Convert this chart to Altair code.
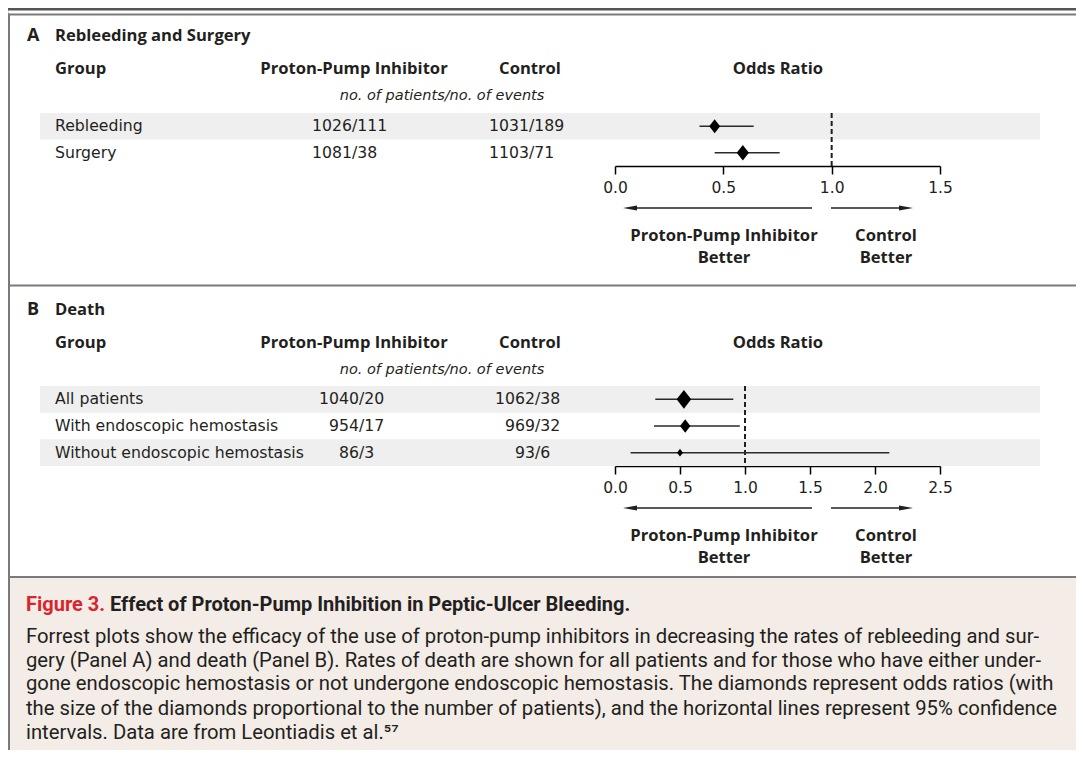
import altair as alt
import pandas as pd

# ---------------- data ----------------
a_groups = ["Rebleeding", "Surgery"]
a_ppi_patients = [1026, 1081]
a_ppi_events = [111, 38]
a_ctl_patients = [1031, 1103]
a_ctl_events = [189, 71]
a_or = [0.46, 0.59]
a_lo = [0.39, 0.46]
a_hi = [0.64, 0.76]
a_weight = [56, 70]
a_ticks = [0.0, 0.5, 1.0, 1.5]

b_groups = ["All patients", "With endoscopic hemostasis", "Without endoscopic hemostasis"]
b_ppi_patients = [1040, 954, 86]
b_ppi_events = [20, 17, 3]
b_ctl_patients = [1062, 969, 93]
b_ctl_events = [38, 32, 6]
b_or = [0.53, 0.54, 0.50]
b_lo = [0.31, 0.30, 0.12]
b_hi = [0.91, 0.96, 2.11]
b_weight = [100, 51, 17]
b_ticks = [0.0, 0.5, 1.0, 1.5, 2.0, 2.5]

headers = ["Group", "Proton-Pump Inhibitor", "Control", "Odds Ratio"]
subheader = "no. of patients/no. of events"
favour_left = ["Proton-Pump Inhibitor", "Better"]
favour_right = ["Control", "Better"]

caption_label = "Figure 3."
caption_title = "Effect of Proton-Pump Inhibition in Peptic-Ulcer Bleeding."
caption_lines = [
    "Forrest plots show the efficacy of the use of proton-pump inhibitors in decreasing the rates of rebleeding and sur-",
    "gery (Panel A) and death (Panel B). Rates of death are shown for all patients and for those who have either under-",
    "gone endoscopic hemostasis or not undergone endoscopic hemostasis. The diamonds represent odds ratios (with",
    "the size of the diamonds proportional to the number of patients), and the horizontal lines represent 95% confidence",
    "intervals. Data are from Leontiadis et al.\u2075\u2077",
]

# ---------------- style ----------------
W = 1068
H = 742
FONT = "DejaVu Sans"
BFONT = "Open Sans"
CAPFONT = "Roboto"
INK = "#231f20"
BORDER = "#7a7a7a"
BAND = "#efefef"
XR = [607, 932]
BOLD = 16.6
DIAMOND = "M0,-1L0.78,0L0,1L-0.78,0Z"
ARROW_L = "M-1,0L1,-0.35L1,0.35Z"
ARROW_R = "M1,0L-1,-0.35L-1,0.35Z"

one = pd.DataFrame({"k": [0]})


def hline(y, x0=0, x1=W, color=BORDER, width=2):
    return alt.Chart(one).mark_rule(color=color, strokeWidth=width).encode(
        x=alt.value(x0), x2=alt.value(x1), y=alt.value(y))


def vline(x, y0, y1, color=BORDER, width=2):
    return alt.Chart(one).mark_rule(color=color, strokeWidth=width).encode(
        x=alt.value(x), y=alt.value(y0), y2=alt.value(y1))


def label(text, x, y, align="left", size=15, weight="normal", style="normal",
          color=INK, font=FONT):
    return alt.Chart(one).mark_text(
        align=align, baseline="middle", fontSize=size, fontWeight=weight,
        fontStyle=style, color=color, font=font
    ).encode(x=alt.value(x), y=alt.value(y), text=alt.value(text))


def blabel(text, x, y, align="left", size=BOLD):
    return label(text, x, y, align=align, size=size, weight="bold", font=BFONT)


def panel(letter, title, groups, ppi_n, ppi_e, ctl_n, ctl_e, orv, lo, hi,
          wt, ticks, top, axis_y, band_top, ppi_slash, ctl_slash):
    df = pd.DataFrame({
        "group": groups,
        "ppi_n": [str(v) for v in ppi_n],
        "ppi_e": ["/" + str(v) for v in ppi_e],
        "ctl_n": [str(v) for v in ctl_n],
        "ctl_e": ["/" + str(v) for v in ctl_e],
        "or": orv, "lo": lo, "hi": hi, "wt": wt,
        "shade": [i % 2 == 0 for i in range(len(groups))],
    })
    xmax = ticks[-1]
    xsc = alt.Scale(domain=[0, xmax], range=XR, nice=False, zero=False)
    ysc = alt.Scale(domain=groups, range=[band_top, axis_y], paddingInner=0,
                    paddingOuter=0)
    Y = alt.Y("group:N", scale=ysc, axis=None)
    base = alt.Chart(df)

    bands = base.transform_filter("datum.shade").mark_rect(color=BAND).encode(
        y=Y, x=alt.value(32), x2=alt.value(1032))
    ref = alt.Chart(pd.DataFrame({"ref": [1.0]})).mark_rule(
        color=INK, strokeWidth=2, strokeDash=[5, 3]).encode(
        x=alt.X("ref:Q", scale=xsc, axis=alt.Axis(
            orient="bottom", offset=axis_y - H,
            values=ticks, format=".1f", title=None, grid=False,
            domainColor="black", domainWidth=1.5, tickColor="black",
            tickWidth=1.5, tickSize=8, labelFont=FONT, labelFontSize=15.5,
            labelColor=INK, labelPadding=6, labelFlush=False)),
        y=alt.value(band_top), y2=alt.value(axis_y))
    ci = base.mark_rule(color="#2a2a2a", strokeWidth=1.5).encode(
        x=alt.X("lo:Q", scale=xsc, axis=None), x2="hi:Q", y=Y)
    dia = base.mark_point(shape=DIAMOND, filled=True, color="black",
                          opacity=1, strokeWidth=0).encode(
        x=alt.X("or:Q", scale=xsc, axis=None), y=Y,
        size=alt.Size("wt:Q", scale=alt.Scale(domain=[0, 100], range=[0, 350]),
                      legend=None))
    txt = dict(baseline="middle", fontSize=15.7, font=FONT, color=INK)
    names = base.mark_text(align="left", **txt).encode(
        x=alt.value(47), y=Y, text="group:N")
    pn = base.mark_text(align="right", **txt).encode(
        x=alt.value(ppi_slash), y=Y, text="ppi_n:N")
    pe = base.mark_text(align="left", **txt).encode(
        x=alt.value(ppi_slash), y=Y, text="ppi_e:N")
    cn = base.mark_text(align="right", **txt).encode(
        x=alt.value(ctl_slash), y=Y, text="ctl_n:N")
    ce = base.mark_text(align="left", **txt).encode(
        x=alt.value(ctl_slash), y=Y, text="ctl_e:N")

    ya = axis_y + 42
    layers = [
        bands, ref, ci, dia, names, pn, pe, cn, ce,
        blabel(letter, 19, top + 27, size=18),
        blabel(title, 47, top + 27),
        blabel(headers[0], 47, top + 60),
        blabel(headers[1], 346, top + 60, align="center"),
        blabel(headers[2], 522, top + 60, align="center"),
        blabel(headers[3], 770, top + 60, align="center"),
        label(subheader, 434, top + 87, align="center", size=14.5, style="italic"),
        # favour arrows
        alt.Chart(one).mark_rule(color=INK, strokeWidth=1.5).encode(
            x=alt.value(621), x2=alt.value(804), y=alt.value(ya)),
        alt.Chart(one).mark_rule(color=INK, strokeWidth=1.5).encode(
            x=alt.value(823), x2=alt.value(899), y=alt.value(ya)),
        alt.Chart(one).mark_point(shape=ARROW_L, filled=True, color=INK,
                                  opacity=1, size=196, strokeWidth=0).encode(
            x=alt.value(622), y=alt.value(ya)),
        alt.Chart(one).mark_point(shape=ARROW_R, filled=True, color=INK,
                                  opacity=1, size=196, strokeWidth=0).encode(
            x=alt.value(898), y=alt.value(ya)),
        blabel(favour_left[0], 716, ya + 28, align="center"),
        blabel(favour_left[1], 716, ya + 50, align="center"),
        blabel(favour_right[0], 878, ya + 28, align="center"),
        blabel(favour_right[1], 878, ya + 50, align="center"),
    ]
    return layers


# panel A: top at 0, axis at 158 ; panel B: top at 276, axis at 458
layers_a = panel("A", "Rebleeding and Surgery", a_groups, a_ppi_patients,
                 a_ppi_events, a_ctl_patients, a_ctl_events, a_or, a_lo, a_hi,
                 a_weight, a_ticks, top=1, axis_y=158, band_top=105,
                 ppi_slash=344, ctl_slash=521)
layers_b = panel("B", "Death", b_groups, b_ppi_patients, b_ppi_events,
                 b_ctl_patients, b_ctl_events, b_or, b_lo, b_hi, b_weight,
                 b_ticks, top=276 - 1, axis_y=458, band_top=378,
                 ppi_slash=351, ctl_slash=527)

CAP = 570
frame = [
    alt.Chart(one).mark_rect(color="#f3ece7").encode(
        x=alt.value(2), x2=alt.value(W), y=alt.value(CAP), y2=alt.value(H)),
    hline(1.25, color="#555555", width=2.5),
    hline(6.5),
    hline(277.5),
    hline(569),
    vline(1, 5.5, H),
]
cap = [
    label(caption_label, 18, CAP + 27, size=20, weight="bold", color="#d9262e", font=CAPFONT),
    label(caption_title, 102, CAP + 27, size=20, weight="bold", font=CAPFONT),
]
for line, yy in zip(caption_lines, [59, 83, 106, 130.5, 154.5]):
    cap.append(label(line, 18, CAP + yy, size=20.25, font=CAPFONT))

chart = alt.layer(*(frame + layers_a + layers_b + cap)).resolve_scale(
    x="independent", y="independent", size="independent"
).properties(
    width=W, height=H, padding=0,
    autosize=alt.AutoSizeParams(type="none")
).configure_view(stroke=None).configure(background="white")

chart.save("out.html", embed_options={"renderer": "svg", "actions": False})
